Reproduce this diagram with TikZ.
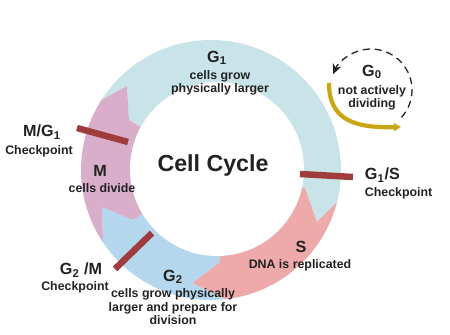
\documentclass[tikz,border=0pt]{standalone}
\usepackage{fontspec}
\setmainfont{Liberation Sans}
\usepackage{tikz}
\usetikzlibrary{arrows.meta,calc}
\definecolor{g1blue}{RGB}{201,228,232}
\definecolor{ssalmon}{RGB}{238,170,170}
\definecolor{g2blue}{RGB}{180,215,238}
\definecolor{mpink}{RGB}{216,174,203}
\definecolor{checkred}{RGB}{160,60,60}
\definecolor{g0gold}{RGB}{201,166,22}
\definecolor{ink}{RGB}{34,34,34}

\begin{document}
\begin{tikzpicture}[x=0.025cm, y=0.025cm, >=Stealth,
  head/.style={font=\fontsize{11.5}{12}\selectfont\bfseries, text=ink},
  desc/.style={font=\fontsize{8.8}{9.6}\selectfont\bfseries, text=ink, align=center},
  chk/.style={line width=4.6pt, checkred}]
\useasboundingbox (0,0) rectangle (450,335);
% ring centre and phase borders (inner edge, arrow tip, outer edge)
\coordinate (c) at (214,165);
\coordinate (b1i) at (305,147); \coordinate (b1t) at (317,113); \coordinate (b1o) at (342,138);
\coordinate (b2i) at (220,73);  \coordinate (b2t) at (192,52);  \coordinate (b2o) at (227,35);
\coordinate (b3i) at (133,115); \coordinate (b3t) at (102,128); \coordinate (b3o) at (103,92);
\coordinate (b4i) at (129,215); \coordinate (b4t) at (127,249); \coordinate (b4o) at (96,232);
% the four phases
\begin{scope}
\clip (211,165) circle[radius=130];
\fill[g1blue] (c) -- (b4i) -- (b4t) -- (b4o) -- ($(c)!3!(b4o)$) -- (214,700)
   -- ($(c)!3!(b1o)$) -- (b1o) -- (b1t) -- (b1i) -- cycle;
\fill[ssalmon] (c) -- (b1i) -- (b1t) -- (b1o) -- ($(c)!3!(b1o)$)
   -- ($(c)!3!(b2o)$) -- (b2o) -- (b2t) -- (b2i) -- cycle;
\fill[g2blue] (c) -- (b2i) -- (b2t) -- (b2o) -- ($(c)!3!(b2o)$)
   -- ($(c)!3!(b3o)$) -- (b3o) -- (b3t) -- (b3i) -- cycle;
\fill[mpink] (c) -- (b3i) -- (b3t) -- (b3o) -- ($(c)!3!(b3o)$)
   -- ($(c)!3!(b4o)$) -- (b4o) -- (b4t) -- (b4i) -- cycle;
\end{scope}
\fill[white] (217,166) circle[radius=87];
% checkpoints
\draw[chk] (77,207) -- (128,193);
\draw[chk] (300,161) -- (353,158);
\draw[chk] (115,66) -- (152,102);
% G0 loop
\coordinate (g0c) at (371,245);
\draw[ink, line width=0.9pt, dash pattern=on 5pt off 3.5pt, -{Stealth[length=7pt,width=6.5pt]}]
   ($(g0c)+(-42:41)$) arc[start angle=-42, end angle=157, radius=41];
\draw[g0gold, line width=3pt, -{Triangle[length=5pt,width=5.5pt]}]
   (329,252) .. controls (329,214) and (356,207) .. (401,208);
% labels
\node[font=\fontsize{16.5}{18}\selectfont\bfseries, text=ink] (title) at (213,169) {Cell Cycle};
\node[head] (g1h) at (217,277) {G\textsubscript{1}};
\node[desc] (g1d) at (220,252) {cells grow\\physically larger};
\node[head] (g0h) at (372,263) {G\textsubscript{0}};
\node[desc] (g0d) at (372,237) {not actively\\dividing};
\node[head] (mg1h) at (42,203) {M/G\textsubscript{1}};
\node[desc] (mg1d) at (39,184) {Checkpoint};
\node[head] (mh) at (100,164) {M};
\node[desc] (md) at (102,147) {cells divide};
\node[head, anchor=west] (g1sh) at (360,160) {G\textsubscript{1}/S};
\node[desc, anchor=west] (g1sd) at (360,142) {Checkpoint};
\node[head] (sh) at (301,88) {S};
\node[desc] (sd) at (300,70) {DNA is replicated};
\node[head] (g2mh) at (81,65) {G\textsubscript{2} /M};
\node[desc] (g2md) at (75,48) {Checkpoint};
\node[head] (g2h) at (173,58) {G\textsubscript{2}};
\node[desc] (g2d) at (173,28) {cells grow physically\\larger and prepare for\\division};
\end{tikzpicture}
\end{document}
